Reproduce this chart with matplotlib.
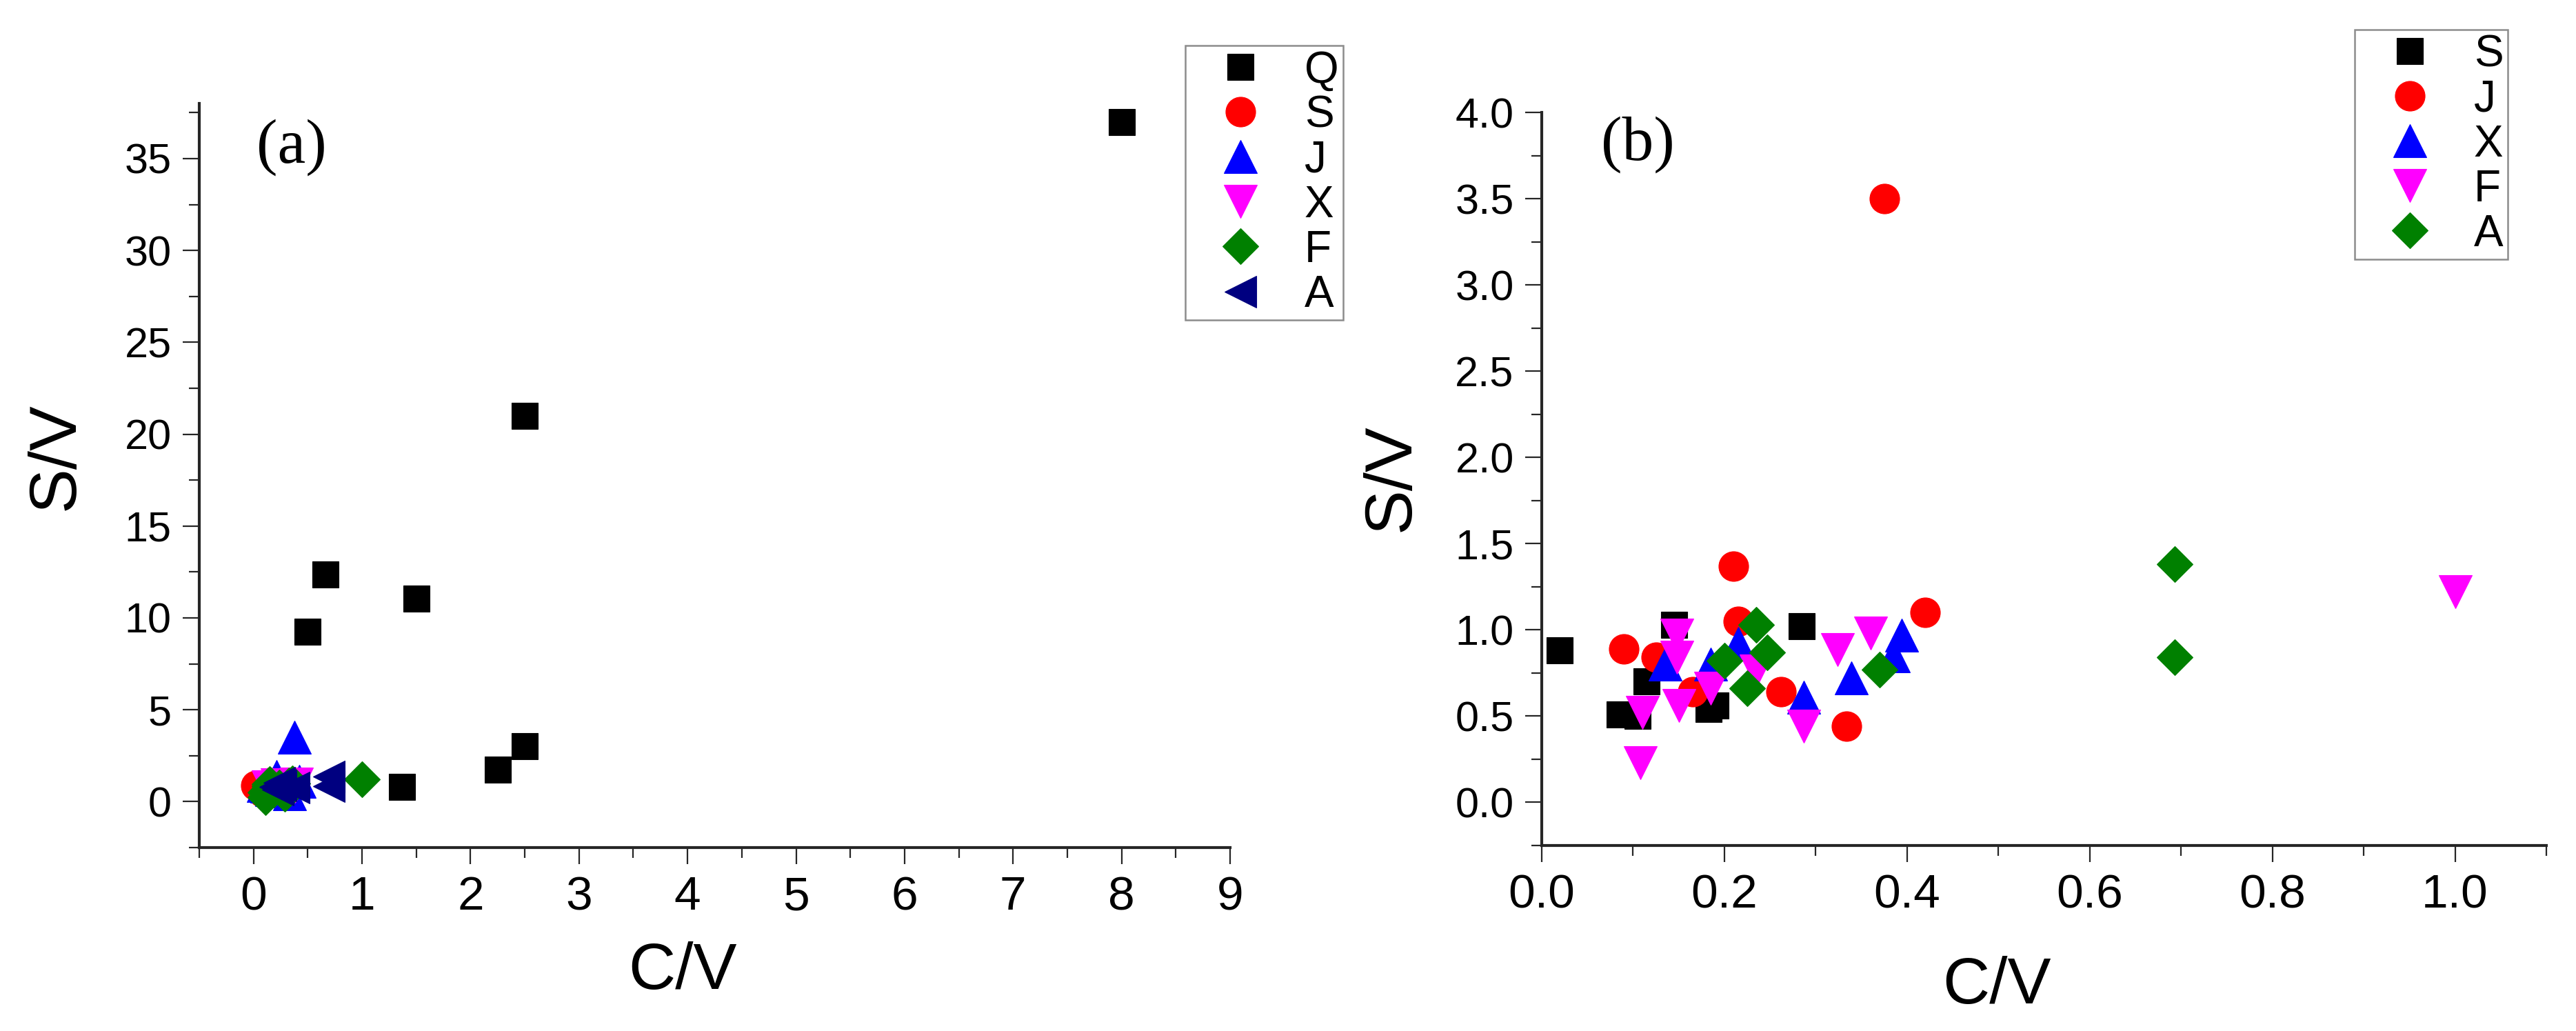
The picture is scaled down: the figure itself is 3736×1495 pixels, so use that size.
import matplotlib
matplotlib.use("Agg")
import matplotlib.pyplot as plt
from matplotlib.ticker import MultipleLocator, FormatStrFormatter

# ---------------- data ----------------
q_x = [8.0, 2.5, 0.66, 1.5, 0.5, 2.5, 2.25, 1.37]
q_y = [37.0, 21.0, 12.35, 11.04, 9.25, 3.02, 1.76, 0.79]

s_x = [0.02, 0.085, 0.105, 0.115, 0.145, 0.183, 0.19, 0.285]
s_y = [0.88, 0.51, 0.50, 0.70, 1.03, 0.54, 0.56, 1.02]

j_x = [0.09, 0.125, 0.165, 0.21, 0.215, 0.262, 0.334, 0.375, 0.42]
j_y = [0.89, 0.84, 0.64, 1.37, 1.05, 0.64, 0.44, 3.50, 1.10]

x_x = [0.135, 0.185, 0.215, 0.287, 0.339, 0.385, 0.394]
x_y = [0.80, 0.80, 0.92, 0.61, 0.72, 0.85, 0.97]

f_x = [0.108, 0.11, 0.148, 0.148, 0.15, 0.185, 0.235, 0.287, 0.324, 0.36, 1.0]
f_y = [0.23, 0.52, 0.97, 0.84, 0.56, 0.66, 0.76, 0.44, 0.886, 0.98, 1.22]

a_x = [0.20, 0.225, 0.235, 0.247, 0.37, 0.693, 0.693]
a_y = [0.82, 0.66, 1.03, 0.87, 0.77, 1.38, 0.84]

names_a = ["Q", "S", "J", "X", "F", "A"]
series_a = [(q_x, q_y), (s_x, s_y), (j_x, j_y), (x_x, x_y), (f_x, f_y), (a_x, a_y)]
names_b = ["S", "J", "X", "F", "A"]
series_b = [(s_x, s_y), (j_x, j_y), (x_x, x_y), (f_x, f_y), (a_x, a_y)]

# ---------------- styles ----------------
styles = [("s", "#000000"), ("o", "#FF0000"), ("^", "#0000FF"),
          ("v", "#FF00FF"), ("D", "#008000"), ("<", "#000080")]
msize = {"s": 27, "o": 31, "^": 34, "v": 34, "D": 26, "<": 33}

SANS = ["Liberation Sans", "DejaVu Sans"]
SERIF = ["Liberation Serif", "DejaVu Serif"]
plt.rcParams["font.family"] = SANS

W, H = 3737, 1495
fig = plt.figure(figsize=(W / 100, H / 100), dpi=100)


def px_axes(l, r, t, b):
    return fig.add_axes([l / W, 1 - b / H, (r - l) / W, (b - t) / H])


ax_a = px_axes(289, 1784, 150, 1229)
ax_b = px_axes(2236, 3693, 163, 1226)

spine_col = "#262626"


def style_axes(ax):
    for s in ("top", "right"):
        ax.spines[s].set_visible(False)
    for s in ("left", "bottom"):
        ax.spines[s].set_linewidth(3)
        ax.spines[s].set_color(spine_col)
    ax.tick_params(which="major", direction="out", length=17, width=1.6,
                   color=spine_col)
    ax.tick_params(which="minor", direction="out", length=11, width=1.6,
                   color=spine_col)
    ax.tick_params(axis="x", labelsize=50, pad=12)
    ax.tick_params(axis="y", labelsize=44, pad=12)


def draw(ax, names, series):
    handles = []
    for name, (xs, ys), (mk, col) in zip(names, series, styles):
        h, = ax.plot(xs, ys, linestyle="none", marker=mk, markersize=msize[mk],
                     markerfacecolor=col, markeredgecolor=col,
                     markeredgewidth=0.8, label=name, clip_on=False)
        handles.append(h)
    return handles


# ---------- panel (a) ----------
style_axes(ax_a)
h_a = draw(ax_a, names_a, series_a)
ax_a.set_xlim(-0.5, 9)
ax_a.set_ylim(-2.5, 38)
ax_a.xaxis.set_major_locator(MultipleLocator(1))
ax_a.xaxis.set_minor_locator(MultipleLocator(0.5))
ax_a.yaxis.set_major_locator(MultipleLocator(5))
ax_a.yaxis.set_minor_locator(MultipleLocator(2.5))
ax_a.set_xlabel("C/V", fontsize=68, va="center", ha="center")
ax_a.xaxis.set_label_coords(0.469, -0.167)
ax_a.set_ylabel("S/V", fontsize=70, va="center", ha="center")
ax_a.yaxis.set_label_coords(-0.139, 0.526)
ax_a.text(0.0896, 0.941, "(a)", transform=ax_a.transAxes, fontsize=66,
          family=SERIF, ha="center", va="center")

# ---------- panel (b) ----------
style_axes(ax_b)
h_b = draw(ax_b, names_b, series_b)
ax_b.set_xlim(0, 1.1)
ax_b.set_ylim(-0.25, 4.0)
ax_b.xaxis.set_major_locator(MultipleLocator(0.2))
ax_b.xaxis.set_minor_locator(MultipleLocator(0.1))
ax_b.yaxis.set_major_locator(MultipleLocator(0.5))
ax_b.yaxis.set_minor_locator(MultipleLocator(0.25))
ax_b.xaxis.set_major_formatter(FormatStrFormatter("%.1f"))
ax_b.yaxis.set_major_formatter(FormatStrFormatter("%.1f"))
ax_b.set_xlabel("C/V", fontsize=68, va="center", ha="center")
ax_b.xaxis.set_label_coords(0.453, -0.192)
ax_b.set_ylabel("S/V", fontsize=70, va="center", ha="center")
ax_b.yaxis.set_label_coords(-0.149, 0.502)
ax_b.text(0.096, 0.956, "(b)", transform=ax_b.transAxes, fontsize=66,
          family=SERIF, ha="center", va="center")

# ---------- legends ----------
leg_kw = dict(loc="upper right", fontsize=46, numpoints=1, borderpad=0.1,
              labelspacing=0.08, handlelength=2.3, handletextpad=0.3,
              borderaxespad=0, fancybox=False, framealpha=1,
              edgecolor="#8c8c8c")
leg_a = fig.legend(handles=h_a, bbox_to_anchor=(1948 / W, 1 - 66 / H), **leg_kw)
leg_b = fig.legend(handles=h_b, bbox_to_anchor=(3637 / W, 1 - 43 / H), **leg_kw)
for lg in (leg_a, leg_b):
    lg.get_frame().set_linewidth(1.8)

fig.savefig("out.png", dpi=100, facecolor="white")
